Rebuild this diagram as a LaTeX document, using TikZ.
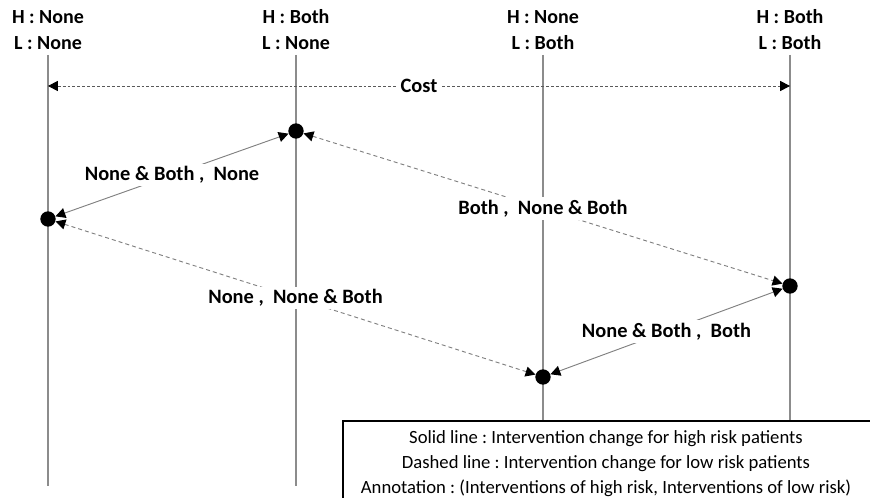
\documentclass[tikz,border=0pt]{standalone}
\usepackage{fontspec}
\setmainfont{Carlito}
\frenchspacing
\usetikzlibrary{arrows.meta}
\begin{document}
\begin{tikzpicture}[x=0.75pt,y=-0.75pt,
  lane/.style={draw=black!45, line width=0.8pt},
  header/.style={align=center, inner sep=0pt,
    font=\bfseries\fontsize{15}{19.5}\selectfont},
  state/.style={circle, fill=black, inner sep=0pt, minimum size=11.5pt},
  tip/.style={{Triangle[length=7.4pt,width=7.6pt,color=black]}-{Triangle[length=7.4pt,width=7.6pt,color=black]}},
  highrisk/.style={tip, draw=black!50, line width=0.7pt},
  lowrisk/.style={tip, draw=black!50, line width=0.7pt, dash pattern=on 3pt off 2.3pt},
  costline/.style={tip, draw=black!65, line width=0.6pt, dash pattern=on 2.2pt off 1.5pt},
  lbl/.style={fill=white, inner sep=2pt,
    font=\bfseries\fontsize{15.3}{17}\selectfont},
  legendtext/.style={align=center, inner sep=0pt,
    font=\fontsize{14}{18.75}\selectfont}
]
\useasboundingbox (0,0) rectangle (870,498);

% column headers
\node[header] (c1) at (48,30)  {H : None\\L : None};
\node[header] (c2) at (296,30) {H : Both\\L : None};
\node[header] (c3) at (543,30) {H : None\\L : Both};
\node[header] (c4) at (790,30) {H : Both\\L : Both};

% vertical lanes
\foreach \x/\n in {48/1, 296/2, 543/3, 790/4} {
  \coordinate (top\n) at (\x,55);
  \coordinate (bot\n) at (\x,486);
  \draw[lane] (top\n) -- (bot\n);
}

% cost axis
\coordinate (costL) at (48,86);
\coordinate (costR) at (790,86);
\draw[costline] (costL) -- (costR)
  node[midway, fill=white, inner sep=2pt,
       font=\bfseries\fontsize{15.3}{17}\selectfont] {Cost};

% states
\node[state] (nn) at (48,219)  {};
\node[state] (bn) at (296,131) {};
\node[state] (bb) at (790,286) {};
\node[state] (nb) at (543,377) {};

% transitions
\draw[highrisk] (nn) -- (bn) node[midway, lbl] {None \& Both ,\ \ None};
\draw[lowrisk]  (bn) -- (bb) node[midway, lbl] {Both ,\ \ None \& Both};
\draw[lowrisk]  (nn) -- (nb) node[midway, lbl] {None ,\ \ None \& Both};
\draw[highrisk] (nb) -- (bb) node[midway, lbl] {None \& Both ,\ \ Both};

% legend
\path[draw=black, line width=0.8pt, fill=white] (343,421) rectangle (880,510);
\node[legendtext] (legend) at (606,464) {Solid line : Intervention change for high risk patients\\
Dashed line : Intervention change for low risk patients\\
Annotation : (Interventions of high risk, Interventions of low risk)};
\end{tikzpicture}
\end{document}
